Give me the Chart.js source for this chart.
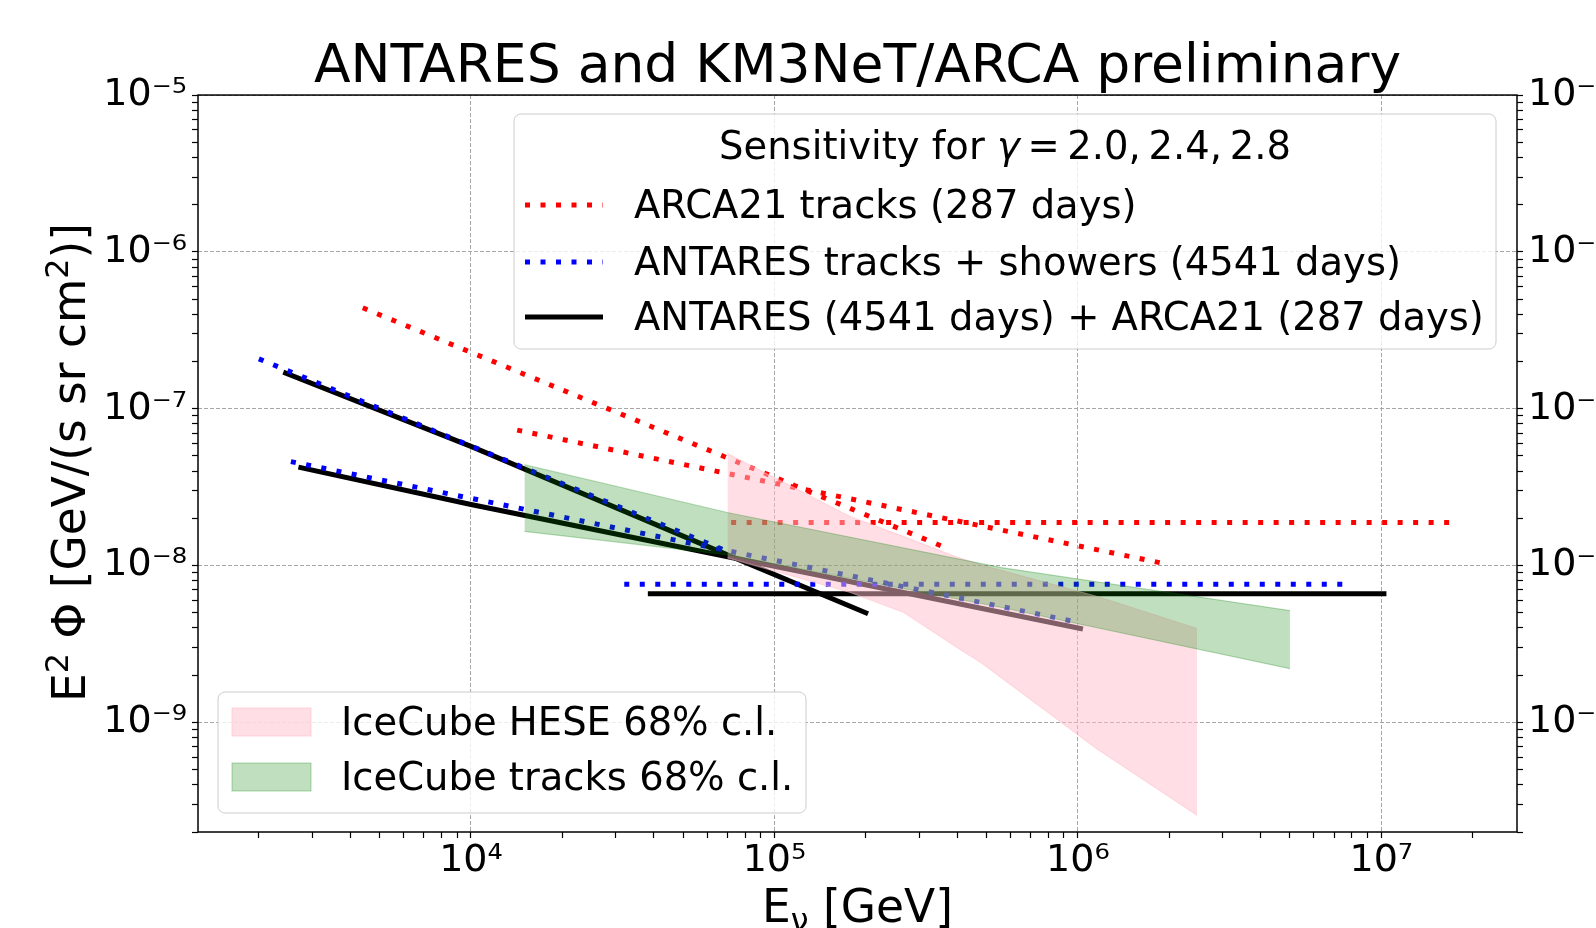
<!DOCTYPE html>
<html><head><meta charset="utf-8">
<script src="https://cdn.jsdelivr.net/npm/chart.js@4.4.0/dist/chart.umd.min.js"></script>
<style>html,body{margin:0;padding:0;background:#fff;overflow:hidden}canvas{display:block}</style>
</head><body>
<canvas id="c" width="1596" height="928"></canvas>
<script>
// ---------------- data ----------------
// ARCA21 tracks (287 days), red dotted
const arcaE_g20 = [7.2e4, 1.8e7];
const arcaF_g20 = [1.88e-8, 1.88e-8];
const arcaE_g24 = [1.42e4, 1.92e6];
const arcaF_g24 = [7.3e-8, 1.03e-8];
const arcaE_g28 = [4.4e3, 3.7e5];
const arcaF_g28 = [4.4e-7, 1.29e-8];
// ANTARES tracks + showers (4541 days), blue dotted
const antE_g20 = [3.2e4, 7.7e6];
const antF_g20 = [7.6e-9, 7.6e-9];
const antE_g24 = [2.55e3, 1.0e6];
const antF_g24 = [4.6e-8, 4.35e-9];
const antE_g28 = [2.0e3, 7.0e4];
const antF_g28 = [2.08e-7, 1.23e-8];
// ANTARES (4541 days) + ARCA21 (287 days), black solid
const combE_g20 = [3.9e4, 1.02e7];
const combF_g20 = [6.6e-9, 6.6e-9];
const combE_g24 = [2.75e3, 1.0e4, 1.02e6];
const combF_g24 = [4.21e-8, 2.45e-8, 3.97e-9];
const combE_g28 = [2.45e3, 1.0e4, 7.0e4, 2.0e5];
const combF_g28 = [1.69e-7, 5.75e-8, 1.17e-8, 5.0e-9];
// IceCube tracks 68% c.l. band
const trkE  = [1.5e4, 7.0e4, 5.6e5, 5.0e6];
const trkUp = [4.4e-8, 2.18e-8, 9.7e-9, 5.16e-9];
const trkLo = [1.65e-8, 1.17e-8, 5.4e-9, 2.2e-9];
// IceCube HESE 68% c.l. band
const heseE  = [7.0e4, 1.78e5, 2.67e5, 3.95e5, 4.79e5, 1.16e6, 2.47e6];
const heseUp = [5.17e-8, 2.05e-8, 1.53e-8, 1.14e-8, 1.01e-8, 6.35e-9, 3.97e-9];
const heseLo = [1.12e-8, 6.73e-9, 5.02e-9, 3.05e-9, 2.41e-9, 6.73e-10, 2.56e-10];
// axes
const xMin = 1260, xMax = 2.8e7, yMin = 2e-10, yMax = 1e-5;
const xMajorTicks = [1e4, 1e5, 1e6, 1e7];
const yMajorTicks = [1e-9, 1e-8, 1e-7, 1e-6, 1e-5];
const minorFactors = [2, 3, 4, 5, 6, 7, 8, 9];
const titleText = 'ANTARES and KM3NeT/ARCA preliminary';
const legendTitle = ['Sensitivity for ', 'γ', '\u2009=\u20092.0,\u20092.4,\u20092.8'];
const legendLines = ['ARCA21 tracks (287 days)', 'ANTARES tracks + showers (4541 days)', 'ANTARES (4541 days) + ARCA21 (287 days)'];
const legendBands = ['IceCube HESE 68% c.l.', 'IceCube tracks 68% c.l.'];

// ---------------- style ----------------
const FONT = "'DejaVu Sans', sans-serif";
Chart.defaults.font.family = FONT;
Chart.defaults.color = '#000';
const RED = '#ff0000', BLUE = '#0000ff', BLACK = '#000000';
const PINK = 'rgba(255,192,203,0.5)', GREEN = 'rgba(0,128,0,0.25)';
const DOT = [5, 10.5];
const LEG_FONT = 38.5, TICK_FONT = 38, LABEL_FONT = 45.5;

const SUP = {'0':'⁰','1':'¹','2':'²','3':'³','4':'⁴','5':'⁵','6':'⁶','7':'⁷','8':'⁸','9':'⁹','-':'⁻'};
function powLabel(v) { return '10' + String(Math.round(Math.log10(v))).split('').map(c => SUP[c]).join(''); }
function isMajorOf(list) { return v => list.some(m => Math.abs(Math.log10(v) - Math.log10(m)) < 1e-6); }
const isXMajor = isMajorOf(xMajorTicks), isYMajor = isMajorOf(yMajorTicks);
function logTicks(min, max) {
  const out = [];
  for (let e = Math.floor(Math.log10(min)); e <= Math.ceil(Math.log10(max)); e++) {
    const b = Math.pow(10, e);
    [1, ...minorFactors].forEach(m => { const v = m * b; if (v >= min * 0.999999 && v <= max * 1.000001) out.push({value: v}); });
  }
  return out;
}
function pts(E, F) { return E.map((e, i) => ({x: e, y: F[i]})); }
function lineDS(label, E, F, color, dotted) {
  return {label, data: pts(E, F), borderColor: color, backgroundColor: color, borderWidth: 5,
    borderDash: dotted ? DOT : [], borderCapStyle: dotted ? 'butt' : 'square', pointRadius: 0, fill: false, tension: 0};
}
function bandDS(label, E, F, color, fill) {
  return {label, data: pts(E, F), borderColor: color, backgroundColor: color, borderWidth: 1.2, pointRadius: 0, fill, tension: 0};
}

const datasets = [
  bandDS(legendBands[1], trkE, trkUp, GREEN, '+1'),
  bandDS(legendBands[1] + ' (lower)', trkE, trkLo, GREEN, false),
  bandDS(legendBands[0], heseE, heseUp, PINK, '+1'),
  bandDS(legendBands[0] + ' (lower)', heseE, heseLo, PINK, false),
  lineDS(legendLines[0] + ' γ=2.0', arcaE_g20, arcaF_g20, RED, true),
  lineDS(legendLines[0] + ' γ=2.4', arcaE_g24, arcaF_g24, RED, true),
  lineDS(legendLines[0] + ' γ=2.8', arcaE_g28, arcaF_g28, RED, true),
  lineDS(legendLines[1] + ' γ=2.0', antE_g20, antF_g20, BLUE, true),
  lineDS(legendLines[1] + ' γ=2.4', antE_g24, antF_g24, BLUE, true),
  lineDS(legendLines[1] + ' γ=2.8', antE_g28, antF_g28, BLUE, true),
  lineDS(legendLines[2] + ' γ=2.0', combE_g20, combF_g20, BLACK, false),
  lineDS(legendLines[2] + ' γ=2.4', combE_g24, combF_g24, BLACK, false),
  lineDS(legendLines[2] + ' γ=2.8', combE_g28, combF_g28, BLACK, false)
];

function gridColor(isMaj) { return ctx => (ctx.tick && isMaj(ctx.tick.value)) ? '#a6a6a6' : 'rgba(0,0,0,0)'; }
function yScale(pos, width, onChart) {
  return {
    type: 'logarithmic', position: pos, min: yMin, max: yMax, bounds: 'data',
    afterBuildTicks: s => { s.ticks = logTicks(yMin, yMax); },
    afterFit: s => { s.width = width; },
    ticks: {autoSkip: false, padding: 5, color: '#000', font: {family: FONT, size: TICK_FONT},
      callback: v => isYMajor(v) ? powLabel(v) : ''},
    grid: {drawOnChartArea: onChart, color: gridColor(isYMajor), lineWidth: 1, tickColor: '#000', tickLength: 6, tickWidth: 1.2},
    border: {display: false, dash: [4, 2]}
  };
}

// rich text helper: parts = [{t, size, italic, dy}]
function richWidth(ctx, parts) {
  let w = 0;
  parts.forEach(p => { ctx.font = (p.italic ? 'italic ' : '') + p.size + 'px ' + FONT; w += ctx.measureText(p.t).width; });
  return w;
}
function drawRich(ctx, parts, x, y, align) {
  let cx = align === 'center' ? x - richWidth(ctx, parts) / 2 : x;
  ctx.textAlign = 'left';
  parts.forEach(p => {
    ctx.font = (p.italic ? 'italic ' : '') + p.size + 'px ' + FONT;
    ctx.fillText(p.t, cx, y + (p.dy || 0));
    cx += ctx.measureText(p.t).width;
  });
}

const decor = {
  id: 'decor',
  afterDatasetsDraw(chart) {
    const {ctx, chartArea: a} = chart;
    ctx.save();
    ctx.strokeStyle = '#000'; ctx.lineWidth = 1.5; ctx.setLineDash([]);
    ctx.strokeRect(a.left, a.top, a.right - a.left, a.bottom - a.top);
    ctx.restore();
  },
  afterDraw(chart) {
    const ctx = chart.ctx;
    const a = chart.chartArea;
    ctx.save();
    ctx.fillStyle = '#000';
    // x axis title
    ctx.textBaseline = 'alphabetic';
    const sub = LABEL_FONT * 0.7;
    drawRich(ctx, [{t: 'E', size: LABEL_FONT}, {t: 'ν', size: sub, dy: 9}, {t: ' [GeV]', size: LABEL_FONT}], (a.left + a.right) / 2, 922, 'center');
    // y axis title (rotated)
    ctx.save();
    ctx.translate(85, (a.top + a.bottom) / 2 - 1);
    ctx.rotate(-Math.PI / 2);
    drawRich(ctx, [{t: 'E', size: LABEL_FONT}, {t: '2', size: sub, dy: -17}, {t: ' Φ [GeV/(s sr cm', size: LABEL_FONT}, {t: '2', size: sub, dy: -17}, {t: ')]', size: LABEL_FONT}], 0, 0, 'center');
    ctx.restore();

    // legend boxes
    function box(x0, y0, x1, y1) {
      ctx.save();
      ctx.beginPath(); ctx.roundRect(x0, y0, x1 - x0, y1 - y0, 7);
      ctx.fillStyle = 'rgba(255,255,255,0.8)'; ctx.fill();
      ctx.strokeStyle = '#cccccc'; ctx.lineWidth = 1; ctx.stroke();
      ctx.restore();
    }
    box(514, 114, 1496, 349);
    ctx.textBaseline = 'middle';
    drawRich(ctx, [{t: legendTitle[0], size: LEG_FONT}, {t: legendTitle[1], size: LEG_FONT, italic: true}, {t: legendTitle[2], size: LEG_FONT}], 1005, 149, 'center');
    const rowsY = [205, 262, 317];
    const styles = [[RED, DOT], [BLUE, DOT], [BLACK, []]];
    rowsY.forEach((y, i) => {
      ctx.save();
      ctx.strokeStyle = styles[i][0]; ctx.lineWidth = 5; ctx.setLineDash(styles[i][1]);
      ctx.lineCap = 'butt';
      ctx.beginPath(); ctx.moveTo(525, y); ctx.lineTo(603, y); ctx.stroke();
      ctx.restore();
      ctx.font = LEG_FONT + 'px ' + FONT; ctx.textAlign = 'left'; ctx.fillStyle = '#000';
      ctx.fillText(legendLines[i], 634, y + 3);
    });
    box(218, 692, 806, 813);
    [[PINK, 708, 725], [GREEN, 763, 780]].forEach((r, i) => {
      ctx.save();
      ctx.fillStyle = r[0]; ctx.strokeStyle = r[0]; ctx.lineWidth = 1.2;
      ctx.fillRect(232, r[1], 79, 28); ctx.strokeRect(232, r[1], 79, 28);
      ctx.restore();
      ctx.font = LEG_FONT + 'px ' + FONT; ctx.textAlign = 'left'; ctx.fillStyle = '#000';
      ctx.fillText(legendBands[i], 341, r[2]);
    });
    ctx.restore();
  }
};

new Chart(document.getElementById('c'), {
  type: 'line',
  data: {datasets},
  plugins: [decor],
  options: {
    responsive: false, animation: false, devicePixelRatio: 1,
    layout: {padding: 0},
    plugins: {
      legend: {display: false}, tooltip: {enabled: false},
      title: {display: true, text: titleText, fullSize: false, color: '#000',
        font: {family: FONT, size: 53.5, weight: 'normal', lineHeight: 1.1}, padding: {top: 39, bottom: -2.8}}
    },
    scales: {
      x: {
        type: 'logarithmic', position: 'bottom', min: xMin, max: xMax, bounds: 'data',
        afterBuildTicks: s => { s.ticks = logTicks(xMin, xMax); },
        afterFit: s => { s.height = 96; },
        ticks: {autoSkip: false, maxRotation: 0, minRotation: 0, padding: 0, color: '#000', font: {family: FONT, size: TICK_FONT},
          callback: v => isXMajor(v) ? powLabel(v) : ''},
        grid: {color: gridColor(isXMajor), lineWidth: 1, tickColor: '#000', tickLength: 6, tickWidth: 1.2},
        border: {display: false, dash: [4, 2]}
      },
      y: yScale('left', 198, true),
      y2: yScale('right', 79, false)
    }
  }
});
</script>
</body></html>
